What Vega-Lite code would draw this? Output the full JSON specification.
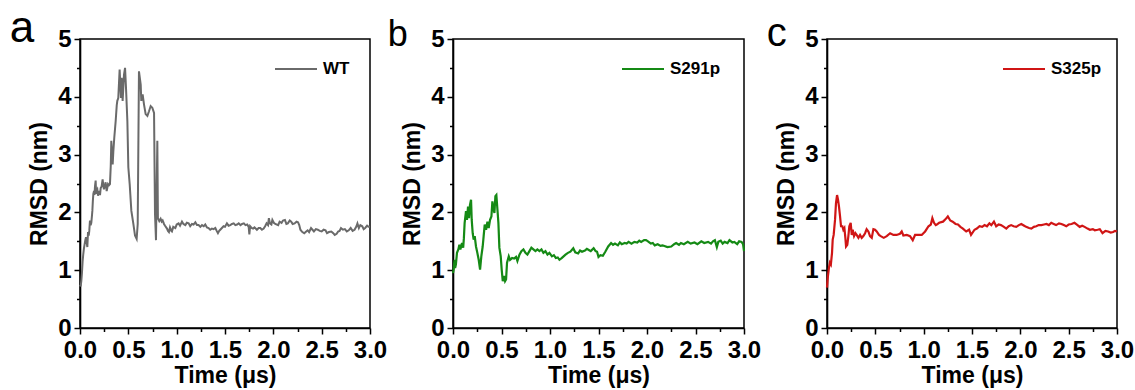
{
  "$schema": "https://vega.github.io/schema/vega-lite/v6.json",
  "background": "white",
  "padding": {"left": 8, "top": 6, "right": 2, "bottom": 2},
  "config": {
    "view": {"stroke": "black", "strokeWidth": 1.5},
    "font": "Liberation Sans",
    "axis": {
      "grid": false,
      "domainColor": "black", "domainWidth": 1.6,
      "tickColor": "black", "tickWidth": 1.5,
      "labelFont": "Liberation Sans", "labelFontSize": 24, "labelFontWeight": "bold", "labelColor": "black",
      "labelPadding": 3, "labelFlush": false, "labelOverlap": false,
      "titleFont": "Liberation Sans", "titleFontSize": 23, "titleFontWeight": "bold", "titleColor": "black"
    },
    "axisX": {"labelPadding": 4},
    "legend": {
      "orient": "none", "legendY": 8, "title": null, "padding": 0,
      "labelFont": "Liberation Sans", "labelFontSize": 17, "labelFontWeight": "bold", "labelColor": "black",
      "symbolType": "stroke", "symbolSize": 1764, "symbolStrokeWidth": 2, "labelOffset": 5
    },
    "title": {"font": "Liberation Sans", "fontWeight": "normal", "color": "black", "anchor": "start", "frame": "bounds", "offset": 0}
  },
  "datasets": {
    "rmsd": [
      {"series":"WT","time":0.000,"rmsd":0.75},{"series":"WT","time":0.007,"rmsd":0.72},{"series":"WT","time":0.014,"rmsd":0.82},{"series":"WT","time":0.020,"rmsd":0.95},{"series":"WT","time":0.027,"rmsd":1.15},{"series":"WT","time":0.034,"rmsd":1.28},{"series":"WT","time":0.041,"rmsd":1.38},{"series":"WT","time":0.048,"rmsd":1.45},{"series":"WT","time":0.055,"rmsd":1.52},{"series":"WT","time":0.062,"rmsd":1.57},{"series":"WT","time":0.069,"rmsd":1.48},{"series":"WT","time":0.076,"rmsd":1.40},{"series":"WT","time":0.083,"rmsd":1.66},{"series":"WT","time":0.090,"rmsd":1.60},{"series":"WT","time":0.096,"rmsd":1.68},{"series":"WT","time":0.103,"rmsd":1.86},{"series":"WT","time":0.110,"rmsd":1.78},{"series":"WT","time":0.117,"rmsd":1.82},{"series":"WT","time":0.124,"rmsd":1.95},{"series":"WT","time":0.128,"rmsd":2.03},{"series":"WT","time":0.133,"rmsd":2.20},{"series":"WT","time":0.138,"rmsd":2.32},{"series":"WT","time":0.145,"rmsd":2.37},{"series":"WT","time":0.150,"rmsd":2.30},{"series":"WT","time":0.155,"rmsd":2.45},{"series":"WT","time":0.162,"rmsd":2.55},{"series":"WT","time":0.167,"rmsd":2.32},{"series":"WT","time":0.172,"rmsd":2.38},{"series":"WT","time":0.179,"rmsd":2.40},{"series":"WT","time":0.186,"rmsd":2.29},{"series":"WT","time":0.193,"rmsd":2.33},{"series":"WT","time":0.200,"rmsd":2.37},{"series":"WT","time":0.207,"rmsd":2.30},{"series":"WT","time":0.214,"rmsd":2.42},{"series":"WT","time":0.224,"rmsd":2.45},{"series":"WT","time":0.234,"rmsd":2.57},{"series":"WT","time":0.240,"rmsd":2.48},{"series":"WT","time":0.248,"rmsd":2.40},{"series":"WT","time":0.256,"rmsd":2.46},{"series":"WT","time":0.265,"rmsd":2.52},{"series":"WT","time":0.276,"rmsd":2.37},{"series":"WT","time":0.290,"rmsd":2.49},{"series":"WT","time":0.300,"rmsd":2.47},{"series":"WT","time":0.310,"rmsd":2.49},{"series":"WT","time":0.318,"rmsd":2.80},{"series":"WT","time":0.324,"rmsd":3.24},{"series":"WT","time":0.331,"rmsd":3.00},{"series":"WT","time":0.338,"rmsd":2.83},{"series":"WT","time":0.345,"rmsd":3.06},{"series":"WT","time":0.355,"rmsd":3.30},{"series":"WT","time":0.369,"rmsd":3.58},{"series":"WT","time":0.380,"rmsd":3.85},{"series":"WT","time":0.386,"rmsd":3.93},{"series":"WT","time":0.396,"rmsd":3.98},{"series":"WT","time":0.410,"rmsd":4.47},{"series":"WT","time":0.424,"rmsd":3.98},{"series":"WT","time":0.431,"rmsd":4.33},{"series":"WT","time":0.441,"rmsd":3.93},{"series":"WT","time":0.455,"rmsd":4.38},{"series":"WT","time":0.466,"rmsd":4.50},{"series":"WT","time":0.476,"rmsd":4.15},{"series":"WT","time":0.490,"rmsd":3.58},{"series":"WT","time":0.500,"rmsd":2.78},{"series":"WT","time":0.514,"rmsd":2.49},{"series":"WT","time":0.531,"rmsd":2.03},{"series":"WT","time":0.552,"rmsd":1.80},{"series":"WT","time":0.569,"rmsd":1.60},{"series":"WT","time":0.586,"rmsd":1.54},{"series":"WT","time":0.597,"rmsd":1.80},{"series":"WT","time":0.610,"rmsd":4.44},{"series":"WT","time":0.628,"rmsd":4.21},{"series":"WT","time":0.634,"rmsd":3.93},{"series":"WT","time":0.648,"rmsd":4.04},{"series":"WT","time":0.662,"rmsd":3.87},{"series":"WT","time":0.679,"rmsd":3.70},{"series":"WT","time":0.697,"rmsd":3.67},{"series":"WT","time":0.714,"rmsd":3.75},{"series":"WT","time":0.731,"rmsd":3.84},{"series":"WT","time":0.748,"rmsd":3.81},{"series":"WT","time":0.766,"rmsd":3.72},{"series":"WT","time":0.776,"rmsd":1.97},{"series":"WT","time":0.786,"rmsd":1.52},{"series":"WT","time":0.800,"rmsd":3.24},{"series":"WT","time":0.806,"rmsd":1.90},{"series":"WT","time":0.820,"rmsd":1.85},{"series":"WT","time":0.834,"rmsd":1.89},{"series":"WT","time":0.845,"rmsd":1.84},{"series":"WT","time":0.855,"rmsd":1.86},{"series":"WT","time":0.869,"rmsd":1.80},{"series":"WT","time":0.880,"rmsd":1.77},{"series":"WT","time":0.900,"rmsd":1.72},{"series":"WT","time":0.910,"rmsd":1.68},{"series":"WT","time":0.920,"rmsd":1.66},{"series":"WT","time":0.931,"rmsd":1.74},{"series":"WT","time":0.945,"rmsd":1.68},{"series":"WT","time":0.951,"rmsd":1.67},{"series":"WT","time":0.965,"rmsd":1.75},{"series":"WT","time":0.986,"rmsd":1.73},{"series":"WT","time":1.000,"rmsd":1.79},{"series":"WT","time":1.020,"rmsd":1.81},{"series":"WT","time":1.035,"rmsd":1.77},{"series":"WT","time":1.055,"rmsd":1.84},{"series":"WT","time":1.070,"rmsd":1.80},{"series":"WT","time":1.090,"rmsd":1.78},{"series":"WT","time":1.105,"rmsd":1.82},{"series":"WT","time":1.124,"rmsd":1.81},{"series":"WT","time":1.140,"rmsd":1.76},{"series":"WT","time":1.158,"rmsd":1.80},{"series":"WT","time":1.175,"rmsd":1.79},{"series":"WT","time":1.193,"rmsd":1.83},{"series":"WT","time":1.210,"rmsd":1.78},{"series":"WT","time":1.227,"rmsd":1.78},{"series":"WT","time":1.245,"rmsd":1.75},{"series":"WT","time":1.262,"rmsd":1.78},{"series":"WT","time":1.280,"rmsd":1.76},{"series":"WT","time":1.296,"rmsd":1.79},{"series":"WT","time":1.313,"rmsd":1.74},{"series":"WT","time":1.330,"rmsd":1.73},{"series":"WT","time":1.347,"rmsd":1.70},{"series":"WT","time":1.364,"rmsd":1.72},{"series":"WT","time":1.382,"rmsd":1.71},{"series":"WT","time":1.400,"rmsd":1.73},{"series":"WT","time":1.414,"rmsd":1.68},{"series":"WT","time":1.427,"rmsd":1.64},{"series":"WT","time":1.440,"rmsd":1.68},{"series":"WT","time":1.451,"rmsd":1.70},{"series":"WT","time":1.468,"rmsd":1.73},{"series":"WT","time":1.485,"rmsd":1.76},{"series":"WT","time":1.500,"rmsd":1.75},{"series":"WT","time":1.520,"rmsd":1.81},{"series":"WT","time":1.537,"rmsd":1.77},{"series":"WT","time":1.555,"rmsd":1.78},{"series":"WT","time":1.572,"rmsd":1.80},{"series":"WT","time":1.590,"rmsd":1.81},{"series":"WT","time":1.607,"rmsd":1.78},{"series":"WT","time":1.625,"rmsd":1.79},{"series":"WT","time":1.642,"rmsd":1.81},{"series":"WT","time":1.660,"rmsd":1.78},{"series":"WT","time":1.677,"rmsd":1.80},{"series":"WT","time":1.695,"rmsd":1.81},{"series":"WT","time":1.712,"rmsd":1.78},{"series":"WT","time":1.730,"rmsd":1.79},{"series":"WT","time":1.745,"rmsd":1.75},{"series":"WT","time":1.752,"rmsd":1.62},{"series":"WT","time":1.760,"rmsd":1.76},{"series":"WT","time":1.775,"rmsd":1.73},{"series":"WT","time":1.790,"rmsd":1.72},{"series":"WT","time":1.805,"rmsd":1.74},{"series":"WT","time":1.830,"rmsd":1.70},{"series":"WT","time":1.848,"rmsd":1.73},{"series":"WT","time":1.865,"rmsd":1.73},{"series":"WT","time":1.882,"rmsd":1.70},{"series":"WT","time":1.900,"rmsd":1.72},{"series":"WT","time":1.915,"rmsd":1.76},{"series":"WT","time":1.930,"rmsd":1.81},{"series":"WT","time":1.945,"rmsd":1.78},{"series":"WT","time":1.954,"rmsd":1.90},{"series":"WT","time":1.965,"rmsd":1.81},{"series":"WT","time":1.980,"rmsd":1.79},{"series":"WT","time":1.990,"rmsd":1.87},{"series":"WT","time":2.005,"rmsd":1.82},{"series":"WT","time":2.020,"rmsd":1.80},{"series":"WT","time":2.050,"rmsd":1.78},{"series":"WT","time":2.065,"rmsd":1.84},{"series":"WT","time":2.085,"rmsd":1.82},{"series":"WT","time":2.100,"rmsd":1.86},{"series":"WT","time":2.120,"rmsd":1.87},{"series":"WT","time":2.135,"rmsd":1.80},{"series":"WT","time":2.150,"rmsd":1.81},{"series":"WT","time":2.170,"rmsd":1.86},{"series":"WT","time":2.185,"rmsd":1.84},{"series":"WT","time":2.200,"rmsd":1.80},{"series":"WT","time":2.220,"rmsd":1.81},{"series":"WT","time":2.240,"rmsd":1.84},{"series":"WT","time":2.255,"rmsd":1.83},{"series":"WT","time":2.268,"rmsd":1.78},{"series":"WT","time":2.280,"rmsd":1.70},{"series":"WT","time":2.300,"rmsd":1.66},{"series":"WT","time":2.320,"rmsd":1.64},{"series":"WT","time":2.340,"rmsd":1.67},{"series":"WT","time":2.355,"rmsd":1.69},{"series":"WT","time":2.370,"rmsd":1.66},{"series":"WT","time":2.390,"rmsd":1.73},{"series":"WT","time":2.405,"rmsd":1.70},{"series":"WT","time":2.420,"rmsd":1.67},{"series":"WT","time":2.440,"rmsd":1.71},{"series":"WT","time":2.460,"rmsd":1.70},{"series":"WT","time":2.480,"rmsd":1.68},{"series":"WT","time":2.500,"rmsd":1.67},{"series":"WT","time":2.520,"rmsd":1.70},{"series":"WT","time":2.540,"rmsd":1.69},{"series":"WT","time":2.555,"rmsd":1.64},{"series":"WT","time":2.575,"rmsd":1.66},{"series":"WT","time":2.600,"rmsd":1.67},{"series":"WT","time":2.620,"rmsd":1.64},{"series":"WT","time":2.635,"rmsd":1.61},{"series":"WT","time":2.655,"rmsd":1.63},{"series":"WT","time":2.670,"rmsd":1.67},{"series":"WT","time":2.685,"rmsd":1.68},{"series":"WT","time":2.700,"rmsd":1.73},{"series":"WT","time":2.720,"rmsd":1.70},{"series":"WT","time":2.740,"rmsd":1.71},{"series":"WT","time":2.760,"rmsd":1.67},{"series":"WT","time":2.780,"rmsd":1.69},{"series":"WT","time":2.800,"rmsd":1.73},{"series":"WT","time":2.820,"rmsd":1.68},{"series":"WT","time":2.840,"rmsd":1.70},{"series":"WT","time":2.860,"rmsd":1.76},{"series":"WT","time":2.870,"rmsd":1.81},{"series":"WT","time":2.885,"rmsd":1.73},{"series":"WT","time":2.900,"rmsd":1.78},{"series":"WT","time":2.920,"rmsd":1.76},{"series":"WT","time":2.935,"rmsd":1.71},{"series":"WT","time":2.950,"rmsd":1.73},{"series":"WT","time":2.970,"rmsd":1.77},{"series":"WT","time":2.985,"rmsd":1.75},{"series":"WT","time":3.000,"rmsd":1.75},
      {"series":"S291p","time":0.000,"rmsd":0.95},{"series":"S291p","time":0.007,"rmsd":1.01},{"series":"S291p","time":0.012,"rmsd":1.12},{"series":"S291p","time":0.017,"rmsd":1.18},{"series":"S291p","time":0.022,"rmsd":1.04},{"series":"S291p","time":0.030,"rmsd":1.10},{"series":"S291p","time":0.041,"rmsd":1.30},{"series":"S291p","time":0.055,"rmsd":1.36},{"series":"S291p","time":0.066,"rmsd":1.44},{"series":"S291p","time":0.076,"rmsd":1.36},{"series":"S291p","time":0.093,"rmsd":1.47},{"series":"S291p","time":0.105,"rmsd":1.39},{"series":"S291p","time":0.112,"rmsd":1.55},{"series":"S291p","time":0.120,"rmsd":1.82},{"series":"S291p","time":0.134,"rmsd":2.02},{"series":"S291p","time":0.144,"rmsd":1.87},{"series":"S291p","time":0.155,"rmsd":2.10},{"series":"S291p","time":0.165,"rmsd":1.90},{"series":"S291p","time":0.175,"rmsd":2.13},{"series":"S291p","time":0.186,"rmsd":2.22},{"series":"S291p","time":0.193,"rmsd":1.87},{"series":"S291p","time":0.203,"rmsd":1.64},{"series":"S291p","time":0.213,"rmsd":1.53},{"series":"S291p","time":0.224,"rmsd":1.59},{"series":"S291p","time":0.237,"rmsd":1.41},{"series":"S291p","time":0.251,"rmsd":1.30},{"series":"S291p","time":0.265,"rmsd":1.18},{"series":"S291p","time":0.279,"rmsd":1.01},{"series":"S291p","time":0.292,"rmsd":1.24},{"series":"S291p","time":0.306,"rmsd":1.41},{"series":"S291p","time":0.316,"rmsd":1.59},{"series":"S291p","time":0.327,"rmsd":1.79},{"series":"S291p","time":0.341,"rmsd":1.70},{"series":"S291p","time":0.355,"rmsd":1.84},{"series":"S291p","time":0.368,"rmsd":1.73},{"series":"S291p","time":0.382,"rmsd":1.87},{"series":"S291p","time":0.396,"rmsd":1.93},{"series":"S291p","time":0.406,"rmsd":2.19},{"series":"S291p","time":0.416,"rmsd":2.07},{"series":"S291p","time":0.427,"rmsd":1.99},{"series":"S291p","time":0.437,"rmsd":2.28},{"series":"S291p","time":0.447,"rmsd":2.30},{"series":"S291p","time":0.458,"rmsd":2.05},{"series":"S291p","time":0.468,"rmsd":1.82},{"series":"S291p","time":0.478,"rmsd":1.39},{"series":"S291p","time":0.492,"rmsd":1.24},{"series":"S291p","time":0.502,"rmsd":1.01},{"series":"S291p","time":0.513,"rmsd":0.81},{"series":"S291p","time":0.526,"rmsd":0.90},{"series":"S291p","time":0.537,"rmsd":0.81},{"series":"S291p","time":0.547,"rmsd":0.84},{"series":"S291p","time":0.557,"rmsd":1.13},{"series":"S291p","time":0.575,"rmsd":1.24},{"series":"S291p","time":0.588,"rmsd":1.18},{"series":"S291p","time":0.609,"rmsd":1.21},{"series":"S291p","time":0.630,"rmsd":1.20},{"series":"S291p","time":0.650,"rmsd":1.23},{"series":"S291p","time":0.664,"rmsd":1.16},{"series":"S291p","time":0.685,"rmsd":1.27},{"series":"S291p","time":0.705,"rmsd":1.33},{"series":"S291p","time":0.726,"rmsd":1.36},{"series":"S291p","time":0.747,"rmsd":1.30},{"series":"S291p","time":0.767,"rmsd":1.27},{"series":"S291p","time":0.788,"rmsd":1.33},{"series":"S291p","time":0.808,"rmsd":1.39},{"series":"S291p","time":0.829,"rmsd":1.36},{"series":"S291p","time":0.850,"rmsd":1.33},{"series":"S291p","time":0.870,"rmsd":1.36},{"series":"S291p","time":0.891,"rmsd":1.33},{"series":"S291p","time":0.912,"rmsd":1.36},{"series":"S291p","time":0.932,"rmsd":1.30},{"series":"S291p","time":0.953,"rmsd":1.33},{"series":"S291p","time":0.974,"rmsd":1.27},{"series":"S291p","time":0.994,"rmsd":1.30},{"series":"S291p","time":1.020,"rmsd":1.24},{"series":"S291p","time":1.040,"rmsd":1.26},{"series":"S291p","time":1.060,"rmsd":1.21},{"series":"S291p","time":1.080,"rmsd":1.22},{"series":"S291p","time":1.097,"rmsd":1.18},{"series":"S291p","time":1.120,"rmsd":1.21},{"series":"S291p","time":1.140,"rmsd":1.24},{"series":"S291p","time":1.160,"rmsd":1.27},{"series":"S291p","time":1.185,"rmsd":1.30},{"series":"S291p","time":1.210,"rmsd":1.32},{"series":"S291p","time":1.240,"rmsd":1.38},{"series":"S291p","time":1.260,"rmsd":1.31},{"series":"S291p","time":1.290,"rmsd":1.29},{"series":"S291p","time":1.310,"rmsd":1.34},{"series":"S291p","time":1.330,"rmsd":1.32},{"series":"S291p","time":1.360,"rmsd":1.34},{"series":"S291p","time":1.380,"rmsd":1.37},{"series":"S291p","time":1.400,"rmsd":1.35},{"series":"S291p","time":1.420,"rmsd":1.33},{"series":"S291p","time":1.450,"rmsd":1.38},{"series":"S291p","time":1.470,"rmsd":1.33},{"series":"S291p","time":1.485,"rmsd":1.32},{"series":"S291p","time":1.500,"rmsd":1.23},{"series":"S291p","time":1.520,"rmsd":1.26},{"series":"S291p","time":1.545,"rmsd":1.25},{"series":"S291p","time":1.570,"rmsd":1.32},{"series":"S291p","time":1.600,"rmsd":1.41},{"series":"S291p","time":1.630,"rmsd":1.47},{"series":"S291p","time":1.650,"rmsd":1.44},{"series":"S291p","time":1.670,"rmsd":1.46},{"series":"S291p","time":1.700,"rmsd":1.43},{"series":"S291p","time":1.720,"rmsd":1.48},{"series":"S291p","time":1.740,"rmsd":1.45},{"series":"S291p","time":1.770,"rmsd":1.47},{"series":"S291p","time":1.790,"rmsd":1.46},{"series":"S291p","time":1.810,"rmsd":1.49},{"series":"S291p","time":1.840,"rmsd":1.46},{"series":"S291p","time":1.870,"rmsd":1.49},{"series":"S291p","time":1.900,"rmsd":1.48},{"series":"S291p","time":1.920,"rmsd":1.51},{"series":"S291p","time":1.940,"rmsd":1.49},{"series":"S291p","time":1.970,"rmsd":1.52},{"series":"S291p","time":1.990,"rmsd":1.52},{"series":"S291p","time":2.010,"rmsd":1.50},{"series":"S291p","time":2.040,"rmsd":1.46},{"series":"S291p","time":2.060,"rmsd":1.47},{"series":"S291p","time":2.080,"rmsd":1.43},{"series":"S291p","time":2.110,"rmsd":1.45},{"series":"S291p","time":2.140,"rmsd":1.42},{"series":"S291p","time":2.160,"rmsd":1.43},{"series":"S291p","time":2.180,"rmsd":1.42},{"series":"S291p","time":2.210,"rmsd":1.40},{"series":"S291p","time":2.250,"rmsd":1.41},{"series":"S291p","time":2.280,"rmsd":1.45},{"series":"S291p","time":2.300,"rmsd":1.47},{"series":"S291p","time":2.330,"rmsd":1.44},{"series":"S291p","time":2.350,"rmsd":1.47},{"series":"S291p","time":2.380,"rmsd":1.45},{"series":"S291p","time":2.420,"rmsd":1.49},{"series":"S291p","time":2.450,"rmsd":1.46},{"series":"S291p","time":2.490,"rmsd":1.48},{"series":"S291p","time":2.520,"rmsd":1.45},{"series":"S291p","time":2.560,"rmsd":1.50},{"series":"S291p","time":2.590,"rmsd":1.47},{"series":"S291p","time":2.630,"rmsd":1.49},{"series":"S291p","time":2.660,"rmsd":1.46},{"series":"S291p","time":2.680,"rmsd":1.50},{"series":"S291p","time":2.700,"rmsd":1.52},{"series":"S291p","time":2.720,"rmsd":1.40},{"series":"S291p","time":2.735,"rmsd":1.49},{"series":"S291p","time":2.760,"rmsd":1.51},{"series":"S291p","time":2.780,"rmsd":1.46},{"series":"S291p","time":2.800,"rmsd":1.49},{"series":"S291p","time":2.830,"rmsd":1.47},{"series":"S291p","time":2.850,"rmsd":1.52},{"series":"S291p","time":2.880,"rmsd":1.48},{"series":"S291p","time":2.900,"rmsd":1.49},{"series":"S291p","time":2.930,"rmsd":1.45},{"series":"S291p","time":2.950,"rmsd":1.50},{"series":"S291p","time":2.975,"rmsd":1.49},{"series":"S291p","time":2.990,"rmsd":1.45},{"series":"S291p","time":3.000,"rmsd":1.33},
      {"series":"S325p","time":0.000,"rmsd":0.70},{"series":"S325p","time":0.007,"rmsd":0.85},{"series":"S325p","time":0.010,"rmsd":0.90},{"series":"S325p","time":0.020,"rmsd":1.04},{"series":"S325p","time":0.030,"rmsd":1.13},{"series":"S325p","time":0.040,"rmsd":1.10},{"series":"S325p","time":0.052,"rmsd":1.30},{"series":"S325p","time":0.059,"rmsd":1.53},{"series":"S325p","time":0.069,"rmsd":1.61},{"series":"S325p","time":0.083,"rmsd":1.87},{"series":"S325p","time":0.093,"rmsd":2.16},{"series":"S325p","time":0.104,"rmsd":2.30},{"series":"S325p","time":0.114,"rmsd":2.22},{"series":"S325p","time":0.124,"rmsd":2.10},{"series":"S325p","time":0.135,"rmsd":1.93},{"series":"S325p","time":0.145,"rmsd":1.76},{"series":"S325p","time":0.159,"rmsd":1.76},{"series":"S325p","time":0.169,"rmsd":1.70},{"series":"S325p","time":0.180,"rmsd":1.73},{"series":"S325p","time":0.190,"rmsd":1.56},{"series":"S325p","time":0.197,"rmsd":1.41},{"series":"S325p","time":0.210,"rmsd":1.44},{"series":"S325p","time":0.221,"rmsd":1.59},{"series":"S325p","time":0.231,"rmsd":1.76},{"series":"S325p","time":0.245,"rmsd":1.82},{"series":"S325p","time":0.256,"rmsd":1.61},{"series":"S325p","time":0.266,"rmsd":1.70},{"series":"S325p","time":0.280,"rmsd":1.59},{"series":"S325p","time":0.294,"rmsd":1.64},{"series":"S325p","time":0.307,"rmsd":1.61},{"series":"S325p","time":0.325,"rmsd":1.56},{"series":"S325p","time":0.342,"rmsd":1.61},{"series":"S325p","time":0.359,"rmsd":1.56},{"series":"S325p","time":0.376,"rmsd":1.59},{"series":"S325p","time":0.394,"rmsd":1.64},{"series":"S325p","time":0.410,"rmsd":1.71},{"series":"S325p","time":0.428,"rmsd":1.67},{"series":"S325p","time":0.445,"rmsd":1.59},{"series":"S325p","time":0.463,"rmsd":1.56},{"series":"S325p","time":0.480,"rmsd":1.71},{"series":"S325p","time":0.497,"rmsd":1.70},{"series":"S325p","time":0.514,"rmsd":1.67},{"series":"S325p","time":0.538,"rmsd":1.61},{"series":"S325p","time":0.556,"rmsd":1.59},{"series":"S325p","time":0.587,"rmsd":1.56},{"series":"S325p","time":0.618,"rmsd":1.59},{"series":"S325p","time":0.653,"rmsd":1.64},{"series":"S325p","time":0.687,"rmsd":1.61},{"series":"S325p","time":0.720,"rmsd":1.61},{"series":"S325p","time":0.755,"rmsd":1.63},{"series":"S325p","time":0.773,"rmsd":1.67},{"series":"S325p","time":0.790,"rmsd":1.60},{"series":"S325p","time":0.825,"rmsd":1.61},{"series":"S325p","time":0.859,"rmsd":1.59},{"series":"S325p","time":0.887,"rmsd":1.52},{"series":"S325p","time":0.911,"rmsd":1.61},{"series":"S325p","time":0.946,"rmsd":1.61},{"series":"S325p","time":0.980,"rmsd":1.61},{"series":"S325p","time":1.015,"rmsd":1.67},{"series":"S325p","time":1.050,"rmsd":1.76},{"series":"S325p","time":1.074,"rmsd":1.79},{"series":"S325p","time":1.090,"rmsd":1.90},{"series":"S325p","time":1.107,"rmsd":1.82},{"series":"S325p","time":1.125,"rmsd":1.78},{"series":"S325p","time":1.136,"rmsd":1.79},{"series":"S325p","time":1.160,"rmsd":1.82},{"series":"S325p","time":1.200,"rmsd":1.84},{"series":"S325p","time":1.225,"rmsd":1.88},{"series":"S325p","time":1.250,"rmsd":1.93},{"series":"S325p","time":1.275,"rmsd":1.86},{"series":"S325p","time":1.300,"rmsd":1.84},{"series":"S325p","time":1.330,"rmsd":1.80},{"series":"S325p","time":1.355,"rmsd":1.79},{"series":"S325p","time":1.380,"rmsd":1.75},{"series":"S325p","time":1.406,"rmsd":1.72},{"series":"S325p","time":1.440,"rmsd":1.67},{"series":"S325p","time":1.470,"rmsd":1.70},{"series":"S325p","time":1.490,"rmsd":1.61},{"series":"S325p","time":1.526,"rmsd":1.70},{"series":"S325p","time":1.550,"rmsd":1.72},{"series":"S325p","time":1.578,"rmsd":1.76},{"series":"S325p","time":1.605,"rmsd":1.75},{"series":"S325p","time":1.630,"rmsd":1.78},{"series":"S325p","time":1.655,"rmsd":1.76},{"series":"S325p","time":1.680,"rmsd":1.81},{"series":"S325p","time":1.700,"rmsd":1.78},{"series":"S325p","time":1.727,"rmsd":1.84},{"series":"S325p","time":1.750,"rmsd":1.76},{"series":"S325p","time":1.775,"rmsd":1.79},{"series":"S325p","time":1.800,"rmsd":1.78},{"series":"S325p","time":1.830,"rmsd":1.75},{"series":"S325p","time":1.855,"rmsd":1.72},{"series":"S325p","time":1.880,"rmsd":1.76},{"series":"S325p","time":1.905,"rmsd":1.78},{"series":"S325p","time":1.930,"rmsd":1.76},{"series":"S325p","time":1.958,"rmsd":1.75},{"series":"S325p","time":1.985,"rmsd":1.78},{"series":"S325p","time":2.010,"rmsd":1.80},{"series":"S325p","time":2.040,"rmsd":1.77},{"series":"S325p","time":2.060,"rmsd":1.75},{"series":"S325p","time":2.090,"rmsd":1.73},{"series":"S325p","time":2.114,"rmsd":1.72},{"series":"S325p","time":2.140,"rmsd":1.75},{"series":"S325p","time":2.165,"rmsd":1.76},{"series":"S325p","time":2.190,"rmsd":1.78},{"series":"S325p","time":2.218,"rmsd":1.78},{"series":"S325p","time":2.245,"rmsd":1.79},{"series":"S325p","time":2.270,"rmsd":1.80},{"series":"S325p","time":2.295,"rmsd":1.78},{"series":"S325p","time":2.320,"rmsd":1.82},{"series":"S325p","time":2.345,"rmsd":1.80},{"series":"S325p","time":2.370,"rmsd":1.78},{"series":"S325p","time":2.400,"rmsd":1.81},{"series":"S325p","time":2.425,"rmsd":1.80},{"series":"S325p","time":2.450,"rmsd":1.78},{"series":"S325p","time":2.475,"rmsd":1.76},{"series":"S325p","time":2.500,"rmsd":1.79},{"series":"S325p","time":2.530,"rmsd":1.80},{"series":"S325p","time":2.560,"rmsd":1.82},{"series":"S325p","time":2.585,"rmsd":1.79},{"series":"S325p","time":2.614,"rmsd":1.75},{"series":"S325p","time":2.640,"rmsd":1.77},{"series":"S325p","time":2.665,"rmsd":1.75},{"series":"S325p","time":2.695,"rmsd":1.72},{"series":"S325p","time":2.720,"rmsd":1.70},{"series":"S325p","time":2.750,"rmsd":1.71},{"series":"S325p","time":2.770,"rmsd":1.69},{"series":"S325p","time":2.800,"rmsd":1.70},{"series":"S325p","time":2.822,"rmsd":1.71},{"series":"S325p","time":2.850,"rmsd":1.64},{"series":"S325p","time":2.880,"rmsd":1.68},{"series":"S325p","time":2.908,"rmsd":1.67},{"series":"S325p","time":2.935,"rmsd":1.65},{"series":"S325p","time":2.960,"rmsd":1.66},{"series":"S325p","time":2.980,"rmsd":1.68},{"series":"S325p","time":3.000,"rmsd":1.67}
    ]
  },
  "spacing": 83,
  "bounds": "flush",
  "resolve": {"scale": {"color": "independent", "x": "independent", "y": "independent"}, "legend": {"color": "independent"}},
  "hconcat": [
    {
      "width": 290, "height": 289,
      "title": {"text": "a", "fontSize": 44, "dx": -19, "dy": 28},
      "data": {"name": "rmsd"},
      "transform": [{"filter": "datum.series === 'WT'"}],
      "mark": {"type": "line", "strokeWidth": 2},
      "encoding": {
        "x": {"field": "time", "type": "quantitative", "scale": {"domain": [0, 3], "nice": false, "zero": false},
          "axis": {"title": "Time (μs)", "values": [0,0.25,0.5,0.75,1,1.25,1.5,1.75,2,2.25,2.5,2.75,3],
            "labelExpr": "(datum.value*2) % 1 === 0 ? format(datum.value, '.1f') : ''",
            "tickSize": {"condition": {"test": "(datum.value*2) % 1 !== 0", "value": 3.5}, "value": 6}, "titlePadding": 2}},
        "y": {"field": "rmsd", "type": "quantitative", "scale": {"domain": [0, 5], "nice": false},
          "axis": {"title": "RMSD (nm)", "values": [0,0.5,1,1.5,2,2.5,3,3.5,4,4.5,5],
            "labelExpr": "datum.value % 1 === 0 ? format(datum.value, 'd') : ''",
            "tickSize": {"condition": {"test": "datum.value % 1 !== 0", "value": 3.5}, "value": 6}, "titlePadding": 6}},
        "color": {"field": "series", "type": "nominal", "scale": {"domain": ["WT"], "range": ["#6a6a6a"]}, "legend": {"legendX": 194}}
      }
    },
    {
      "width": 291, "height": 289,
      "title": {"text": "b", "fontSize": 36, "dx": -14, "dy": 31},
      "data": {"name": "rmsd"},
      "transform": [{"filter": "datum.series === 'S291p'"}],
      "mark": {"type": "line", "strokeWidth": 2.2},
      "encoding": {
        "x": {"field": "time", "type": "quantitative", "scale": {"domain": [0, 3], "nice": false, "zero": false},
          "axis": {"title": "Time (μs)", "values": [0,0.25,0.5,0.75,1,1.25,1.5,1.75,2,2.25,2.5,2.75,3],
            "labelExpr": "(datum.value*2) % 1 === 0 ? format(datum.value, '.1f') : ''",
            "tickSize": {"condition": {"test": "(datum.value*2) % 1 !== 0", "value": 3.5}, "value": 6}, "titlePadding": 2}},
        "y": {"field": "rmsd", "type": "quantitative", "scale": {"domain": [0, 5], "nice": false},
          "axis": {"title": "RMSD (nm)", "values": [0,0.5,1,1.5,2,2.5,3,3.5,4,4.5,5],
            "labelExpr": "datum.value % 1 === 0 ? format(datum.value, 'd') : ''",
            "tickSize": {"condition": {"test": "datum.value % 1 !== 0", "value": 3.5}, "value": 6}, "titlePadding": 6}},
        "color": {"field": "series", "type": "nominal", "scale": {"domain": ["S291p"], "range": ["#158a15"]}, "legend": {"legendX": 168}}
      }
    },
    {
      "width": 290, "height": 289,
      "title": {"text": "c", "fontSize": 40, "dx": -9, "dy": 31},
      "data": {"name": "rmsd"},
      "transform": [{"filter": "datum.series === 'S325p'"}],
      "mark": {"type": "line", "strokeWidth": 2.2},
      "encoding": {
        "x": {"field": "time", "type": "quantitative", "scale": {"domain": [0, 3], "nice": false, "zero": false},
          "axis": {"title": "Time (μs)", "values": [0,0.25,0.5,0.75,1,1.25,1.5,1.75,2,2.25,2.5,2.75,3],
            "labelExpr": "(datum.value*2) % 1 === 0 ? format(datum.value, '.1f') : ''",
            "tickSize": {"condition": {"test": "(datum.value*2) % 1 !== 0", "value": 3.5}, "value": 6}, "titlePadding": 2}},
        "y": {"field": "rmsd", "type": "quantitative", "scale": {"domain": [0, 5], "nice": false},
          "axis": {"title": "RMSD (nm)", "values": [0,0.5,1,1.5,2,2.5,3,3.5,4,4.5,5],
            "labelExpr": "datum.value % 1 === 0 ? format(datum.value, 'd') : ''",
            "tickSize": {"condition": {"test": "datum.value % 1 !== 0", "value": 3.5}, "value": 6}, "titlePadding": 6}},
        "color": {"field": "series", "type": "nominal", "scale": {"domain": ["S325p"], "range": ["#d01515"]}, "legend": {"legendX": 175}}
      }
    }
  ]
}
